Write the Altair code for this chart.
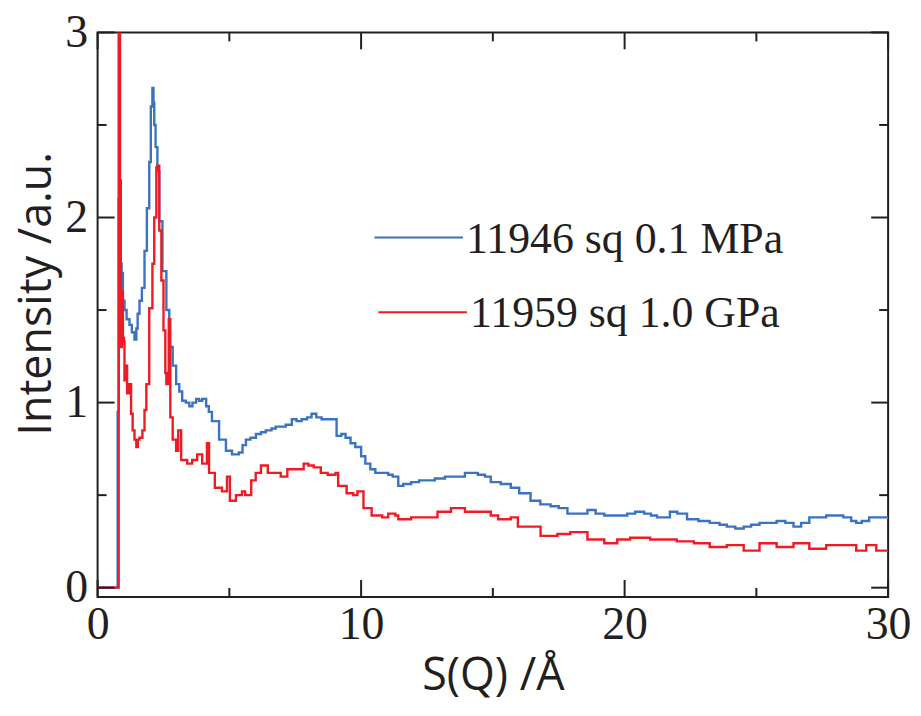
import altair as alt
import pandas as pd

# ---- data ----
blue_name = "11946 sq 0.1 MPa"
red_name = "11959 sq 1.0 GPa"

x_blue = [0.0, 0.76, 0.80, 0.86, 0.91, 0.96, 1.02, 1.10, 1.21, 1.30, 1.40, 1.47, 1.52, 1.59, 1.68,
          1.78, 1.87, 1.96, 2.02, 2.08, 2.12, 2.15, 2.20, 2.27, 2.34, 2.46, 2.61, 2.72, 2.85, 2.98,
          3.10, 3.21, 3.35, 3.48, 3.60, 3.74, 3.85, 3.97, 4.12, 4.22, 4.34, 4.61, 4.87, 5.10, 5.36,
          5.50, 5.63, 5.80, 6.01, 6.20, 6.38, 6.60, 6.76, 6.95, 7.14, 7.37, 7.55, 7.74, 7.95, 8.12,
          8.30, 8.50, 8.70, 8.88, 9.07, 9.25, 9.41, 9.60, 9.78, 10.0, 10.16, 10.35, 10.54, 10.8,
          11.03, 11.2, 11.41, 11.6, 11.90, 12.2, 12.43, 12.8, 13.18, 13.5, 13.94, 14.2, 14.43,
          14.7, 14.92, 15.3, 15.68, 16.0, 16.43, 16.8, 17.19, 17.5, 17.83, 18.2, 18.59, 18.9,
          19.23, 19.6, 20.10, 20.4, 20.74, 21.0, 21.23, 21.72, 22.0, 22.37, 22.8, 23.23, 23.6,
          23.88, 24.2, 24.52, 24.8, 25.12, 25.5, 25.77, 26.1, 26.41, 26.7, 27.01, 27.3, 27.65,
          28.0, 28.30, 28.6, 28.79, 29.0, 29.28, 29.6, 30.0]
y_blue = [0.0, 0.95, 2.10, 1.75, 1.70, 1.55, 1.50, 1.45, 1.42, 1.38, 1.34, 1.40, 1.48, 1.55, 1.62,
          1.82, 2.05, 2.30, 2.60, 2.70, 2.62, 2.50, 2.38, 2.25, 1.98, 1.71, 1.50, 1.30, 1.20, 1.10,
          1.06, 1.01, 1.00, 0.98, 1.00, 1.02, 1.01, 1.02, 0.98, 0.95, 0.90, 0.80, 0.74, 0.72, 0.73,
          0.77, 0.80, 0.81, 0.83, 0.84, 0.85, 0.86, 0.87, 0.87, 0.88, 0.91, 0.90, 0.91, 0.92, 0.94,
          0.92, 0.91, 0.91, 0.91, 0.82, 0.83, 0.81, 0.78, 0.76, 0.71, 0.67, 0.64, 0.62, 0.62,
          0.61, 0.60, 0.55, 0.56, 0.57, 0.58, 0.58, 0.59, 0.60, 0.60, 0.62, 0.62, 0.61,
          0.60, 0.57, 0.56, 0.54, 0.51, 0.47, 0.45, 0.44, 0.43, 0.40, 0.40, 0.42, 0.40,
          0.39, 0.39, 0.40, 0.41, 0.40, 0.39, 0.38, 0.41, 0.40, 0.37, 0.36, 0.35, 0.34,
          0.33, 0.32, 0.33, 0.34, 0.35, 0.35, 0.36, 0.35, 0.33, 0.35, 0.38, 0.38, 0.39,
          0.39, 0.38, 0.36, 0.35, 0.36, 0.38, 0.38, 0.37]

x_red = [0.0, 0.78, 0.80, 0.85, 0.88, 0.92, 0.96, 1.00, 1.02, 1.06, 1.12, 1.20, 1.27, 1.33, 1.40,
         1.47, 1.53, 1.59, 1.70, 1.78, 1.85, 1.96, 2.08, 2.15, 2.23, 2.27, 2.34, 2.42, 2.50, 2.57,
         2.61, 2.70, 2.76, 2.85, 2.98, 3.06, 3.17, 3.40, 3.59, 3.78, 3.97, 4.15, 4.23, 4.45, 4.72,
         4.91, 5.02, 5.25, 5.48, 5.60, 5.83, 6.00, 6.20, 6.46, 6.69, 6.95, 7.20, 7.55, 7.82, 8.00,
         8.20, 8.47, 8.73, 9.03, 9.13, 9.45, 9.70, 9.86, 10.09, 10.4, 10.8, 11.03, 11.3, 11.41,
         11.90, 12.43, 12.9, 13.41, 13.94, 14.43, 14.92, 15.2, 15.68, 15.95, 16.43, 16.81, 17.45,
         17.94, 18.59, 19.23, 19.72, 20.21, 20.97, 21.49, 21.98, 22.63, 23.23, 23.88, 24.52,
         25.12, 25.77, 26.41, 27.01, 27.65, 28.30, 28.79, 29.17, 29.55, 30.0]
y_red = [0.0, 0.0, 3.30, 2.20, 1.30, 1.60, 1.35, 1.33, 1.12, 1.20, 1.05, 1.10, 0.94, 0.85, 0.80,
         0.76, 0.80, 0.81, 0.85, 0.96, 1.10, 1.51, 1.75, 2.00, 2.27, 2.28, 1.93, 1.66, 1.39, 1.16,
         1.10, 1.45, 0.92, 0.80, 0.74, 0.85, 0.69, 0.67, 0.69, 0.72, 0.67, 0.78, 0.62, 0.54, 0.52,
         0.60, 0.47, 0.50, 0.52, 0.50, 0.58, 0.62, 0.66, 0.62, 0.62, 0.60, 0.64, 0.64, 0.67, 0.66,
         0.65, 0.62, 0.61, 0.62, 0.55, 0.51, 0.50, 0.52, 0.43, 0.39, 0.38, 0.40, 0.39, 0.37,
         0.38, 0.38, 0.41, 0.43, 0.41, 0.41, 0.39, 0.37, 0.38, 0.33, 0.33, 0.28, 0.29,
         0.30, 0.26, 0.24, 0.26, 0.27, 0.26, 0.26, 0.25, 0.24, 0.22, 0.23, 0.20,
         0.24, 0.22, 0.24, 0.21, 0.23, 0.23, 0.20, 0.23, 0.20, 0.20]

x_major_ticks = [0, 10, 20, 30]
x_minor_ticks = [5, 15, 25]
y_major_ticks = [0, 1, 2, 3]
y_minor_ticks = [0.5, 1.5, 2.5]

BLUE = "#3b73be"
RED = "#ed1c24"
INK = "#231f20"

W, H = 794, 567

df = pd.concat([
    pd.DataFrame({"q": x_blue, "i": y_blue, "series": blue_name}),
    pd.DataFrame({"q": x_red, "i": y_red, "series": red_name}),
])

xs = alt.Scale(domain=[0, 30], nice=False, zero=False)
ys = alt.Scale(domain=[-0.05, 3], nice=False, zero=False)
xtitle = "S(Q) /Å"
ytitle = "Intensity /a.u."
xaxis = alt.Axis(values=x_major_ticks, format="d", labelPadding=6, labelFlush=False,
                 titleY=93, titleBaseline="alphabetic")
yaxis = alt.Axis(values=y_major_ticks, format="d", labelPadding=10, labelFlush=False,
                 titleX=-47, titleY=262, titleBaseline="alphabetic")

X = lambda f: alt.X(f, scale=xs, title=xtitle, axis=xaxis)
Y = lambda f: alt.Y(f, scale=ys, title=ytitle, axis=yaxis)

lines = alt.Chart(df).mark_line(interpolate="step-after", strokeWidth=2.4, clip=True).encode(
    x=X("q:Q"), y=Y("i:Q"),
    color=alt.Color("series:N", scale=alt.Scale(domain=[blue_name, red_name], range=[BLUE, RED]),
                    legend=None),
)

def tick_df(v):
    return pd.DataFrame({"v": v})

tick_style = dict(color=INK, strokeWidth=2)
ticks = [
    alt.Chart(tick_df(x_major_ticks)).mark_rule(**tick_style).encode(x=X("v:Q"), y=alt.value(H), y2=alt.value(H - 17)),
    alt.Chart(tick_df(x_major_ticks)).mark_rule(**tick_style).encode(x=X("v:Q"), y=alt.value(0), y2=alt.value(17)),
    alt.Chart(tick_df(x_minor_ticks)).mark_rule(**tick_style).encode(x=X("v:Q"), y=alt.value(H), y2=alt.value(H - 9)),
    alt.Chart(tick_df(x_minor_ticks)).mark_rule(**tick_style).encode(x=X("v:Q"), y=alt.value(0), y2=alt.value(9)),
    alt.Chart(tick_df(y_major_ticks)).mark_rule(**tick_style).encode(y=Y("v:Q"), x=alt.value(0), x2=alt.value(17)),
    alt.Chart(tick_df(y_major_ticks)).mark_rule(**tick_style).encode(y=Y("v:Q"), x=alt.value(W), x2=alt.value(W - 17)),
    alt.Chart(tick_df(y_minor_ticks)).mark_rule(**tick_style).encode(y=Y("v:Q"), x=alt.value(0), x2=alt.value(9)),
    alt.Chart(tick_df(y_minor_ticks)).mark_rule(**tick_style).encode(y=Y("v:Q"), x=alt.value(W), x2=alt.value(W - 9)),
]

legend_layers = []
for name, color, ly, lx0, lx1, ty, tx in [
    (blue_name, BLUE, 206, 278, 367, 222, 370),
    (red_name, RED, 281, 282, 371, 296, 374),
]:
    ldf = pd.DataFrame({"label": [name]})
    legend_layers.append(
        alt.Chart(ldf).mark_rule(color=color, strokeWidth=2).encode(
            x=alt.value(lx0), x2=alt.value(lx1), y=alt.value(ly))
    )
    legend_layers.append(
        alt.Chart(ldf).mark_text(align="left", baseline="alphabetic", font="Liberation Serif",
                                 fontSize=44, color=INK).encode(
            text="label:N", x=alt.value(tx), y=alt.value(ty))
    )

chart = alt.layer(lines, *ticks, *legend_layers).properties(
    width=W, height=H,
    autosize=alt.AutoSizeParams(type="none"),
    padding={"left": 90, "top": 23, "right": 25, "bottom": 102},
    background="white",
).configure_view(
    stroke=INK, strokeWidth=2,
).configure_axis(
    ticks=False, domain=False, grid=False,
    labelFont="Liberation Serif", labelFontSize=46, labelColor=INK,
    titleFont="Open Sans", titleFontSize=45, titleFontWeight="normal", titleColor=INK,
)

chart.save("out.html", embed_options={"renderer": "svg", "actions": False})
